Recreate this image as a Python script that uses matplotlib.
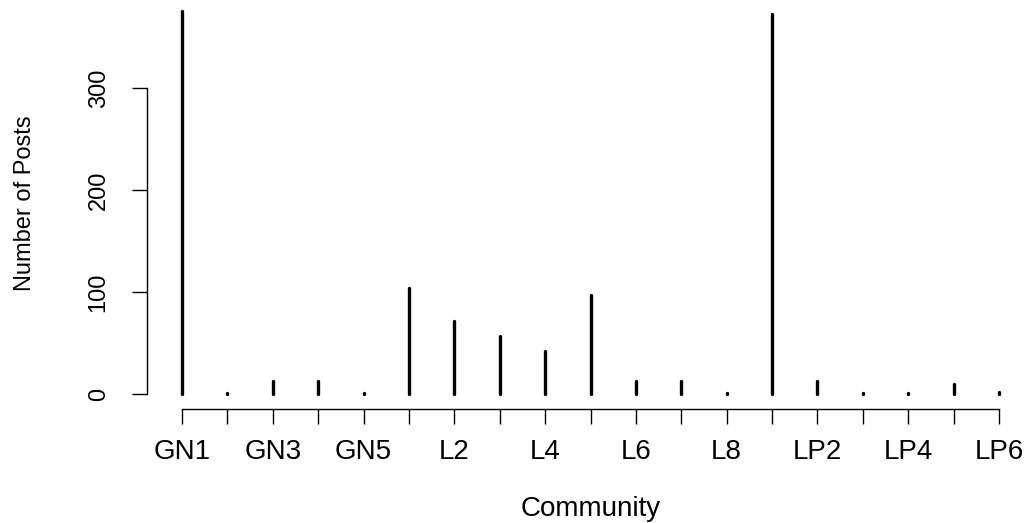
import numpy as np
import matplotlib.pyplot as plt

plt.rcParams["font.family"] = ["Liberation Sans", "DejaVu Sans"]

# posts per community
communities = ["GN1", "GN2", "GN3", "GN4", "GN5",
               "L1", "L2", "L3", "L4", "L5", "L6", "L7", "L8",
               "LP1", "LP2", "LP3", "LP4", "LP5", "LP6"]
posts = [375, 1, 13, 13, 1,
         104, 72, 57, 42, 97, 13, 13, 1,
         373, 13, 1, 1, 10, 2]

W, H = 1031, 523
fig = plt.figure(figsize=(W / 100, H / 100), dpi=100)

# plot region in pixels (R-style type="h" plot)
x0_px, x1_px = 182, 999
n = len(communities)
ppu = (x1_px - x0_px) / (n - 1)
pad = 0.04 * (n - 1)
left_px = x0_px - pad * ppu
right_px = x1_px + pad * ppu
ylo, yhi = -15, 390
zero_px, ppy = 394, 1.02
bot_px = zero_px - ylo * ppy
top_px = zero_px - yhi * ppy

ax = fig.add_axes([left_px / W, 1 - bot_px / H,
                   (right_px - left_px) / W, (bot_px - top_px) / H])

x = np.arange(1, n + 1)
ax.vlines(x, 0, posts, colors="black", linewidth=2.4, capstyle="round")

ax.set_xlim(1 - pad, n + pad)
ax.set_ylim(ylo, yhi)

for s in ["top", "right"]:
    ax.spines[s].set_visible(False)
ax.spines["left"].set_bounds(0, 300)
ax.spines["bottom"].set_bounds(1, n)
ax.spines["left"].set_position(("outward", 2))
for s in ["left", "bottom"]:
    ax.spines[s].set_linewidth(1.0)

# R drops every other label where they would overlap
ax.set_xticks(x)
ax.set_xticklabels([c if i % 2 == 0 else "" for i, c in enumerate(communities)])
ax.set_yticks([0, 100, 200, 300])
ax.set_yticklabels(["0", "100", "200", "300"], rotation=90, va="center")
ax.tick_params(axis="both", length=10.5, width=1.0)
ax.tick_params(axis="x", labelsize=20, pad=11)
ax.tick_params(axis="y", labelsize=17, pad=16)

ax.set_xlabel("Community", fontsize=20, labelpad=22)
ax.set_ylabel("Number of Posts", fontsize=17, labelpad=37)

fig.savefig("out.png", dpi=100)
